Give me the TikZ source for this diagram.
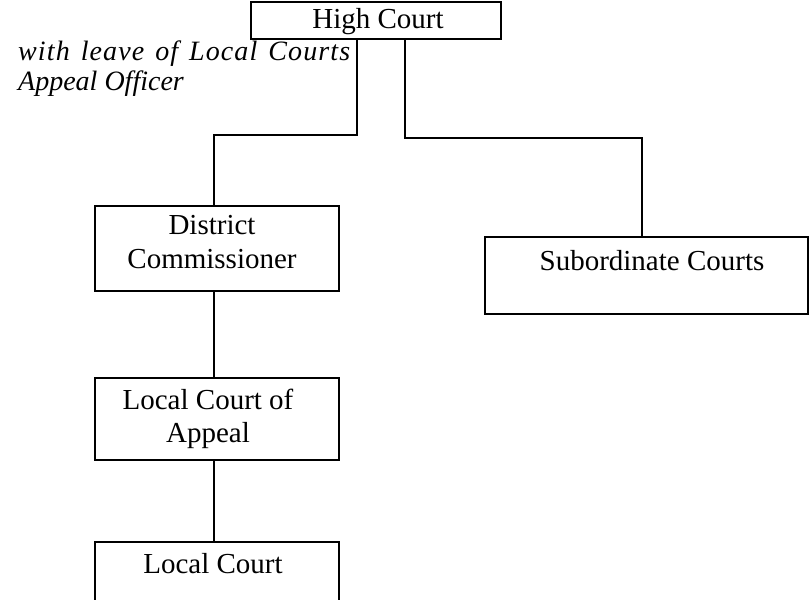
\documentclass[tikz,border=0pt]{standalone}
\usepackage{fontspec}
\setmainfont{Liberation Serif}
\begin{document}
\begin{tikzpicture}[x=1pt,y=-1pt,
  box/.style={draw,line width=1.8pt,rectangle,inner sep=0pt,anchor=north west},
  txt/.style={anchor=base,inner sep=0pt,font=\fontsize{29}{30}\selectfont},
  itxt/.style={anchor=base west,inner sep=0pt,font=\fontsize{28}{30}\selectfont\itshape},
  conn/.style={line width=1.8pt}]
\useasboundingbox (0,0) rectangle (809,600);
\fill[white] (0,0) rectangle (809,600);
% boxes
\node[box,minimum width=250pt,minimum height=37pt] (hc) at (250,1) {};
\node[box,minimum width=244pt,minimum height=85pt] (dc) at (94,205) {};
\node[box,minimum width=323pt,minimum height=77pt] (sc) at (484,236) {};
\node[box,minimum width=244pt,minimum height=82pt] (lca) at (94,377) {};
\node[box,minimum width=244pt,minimum height=80pt] (lc) at (94,541) {};
% texts
\node[txt] (hct) at (378,28) {High Court};
\node[txt] (dct1) at (212,234) {District};
\node[txt] (dct2) at (212,268) {Commissioner};
\node[txt] (sct) at (652,270) {Subordinate Courts};
\node[txt] (lcat1) at (208,409) {Local Court of};
\node[txt] (lcat2) at (208,442) {Appeal};
\node[txt] (lct) at (213,573) {Local Court};
\node[itxt] (lv1) at (18,60) {\makebox[332pt][s]{\addfontfeatures{LetterSpace=4}with leave of Local Courts}};
\node[itxt] (lv2) at (18,90) {Appeal Officer};
% connector coordinates
\coordinate (lj) at (357,135);
\coordinate (rj) at (405,138);
\draw[conn] (hc.south -| lj) -- (lj) -| (dc.north -| 214,0);
\draw[conn] (hc.south -| rj) -- (rj) -| (sc.north -| 642,0);
\draw[conn] (dc.south -| 214,0) -- (lca.north -| 214,0);
\draw[conn] (lca.south -| 214,0) -- (lc.north -| 214,0);
\end{tikzpicture}
\end{document}
